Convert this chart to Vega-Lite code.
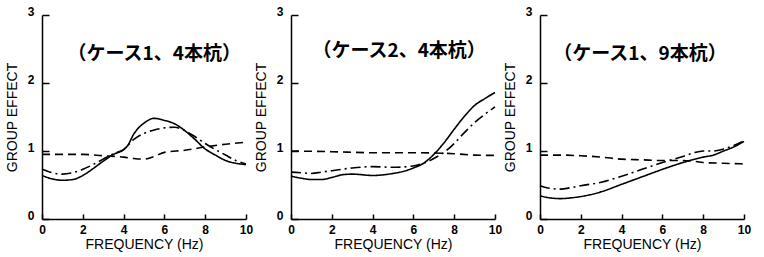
{
  "$schema": "https://vega.github.io/schema/vega-lite/v6.json",
  "background": "white",
  "padding": {"left": 5, "top": 5, "right": 5, "bottom": 5},
  "spacing": 45,
  "bounds": "flush",
  "datasets": {
    "curves": [
      {"c":"c1","s":"solid","f":0,"g":0.64},{"c":"c1","s":"solid","f":0.5,"g":0.59},{"c":"c1","s":"solid","f":1,"g":0.57},{"c":"c1","s":"solid","f":1.5,"g":0.58},{"c":"c1","s":"solid","f":2,"g":0.64},{"c":"c1","s":"solid","f":2.5,"g":0.74},{"c":"c1","s":"solid","f":3,"g":0.85},{"c":"c1","s":"solid","f":3.5,"g":0.95},{"c":"c1","s":"solid","f":4,"g":1.02},{"c":"c1","s":"solid","f":4.2,"g":1.08},{"c":"c1","s":"solid","f":4.5,"g":1.25},{"c":"c1","s":"solid","f":5,"g":1.41},{"c":"c1","s":"solid","f":5.5,"g":1.48},{"c":"c1","s":"solid","f":6,"g":1.45},{"c":"c1","s":"solid","f":6.5,"g":1.4},{"c":"c1","s":"solid","f":7,"g":1.3},{"c":"c1","s":"solid","f":7.5,"g":1.17},{"c":"c1","s":"solid","f":8,"g":1.03},{"c":"c1","s":"solid","f":8.5,"g":0.94},{"c":"c1","s":"solid","f":9,"g":0.86},{"c":"c1","s":"solid","f":9.5,"g":0.82},{"c":"c1","s":"solid","f":10,"g":0.8},
      {"c":"c1","s":"dashdot","f":0,"g":0.73},{"c":"c1","s":"dashdot","f":0.5,"g":0.68},{"c":"c1","s":"dashdot","f":1,"g":0.66},{"c":"c1","s":"dashdot","f":1.5,"g":0.68},{"c":"c1","s":"dashdot","f":2,"g":0.73},{"c":"c1","s":"dashdot","f":2.5,"g":0.8},{"c":"c1","s":"dashdot","f":3,"g":0.88},{"c":"c1","s":"dashdot","f":3.5,"g":0.96},{"c":"c1","s":"dashdot","f":4,"g":1.02},{"c":"c1","s":"dashdot","f":4.5,"g":1.17},{"c":"c1","s":"dashdot","f":5,"g":1.26},{"c":"c1","s":"dashdot","f":5.5,"g":1.31},{"c":"c1","s":"dashdot","f":6,"g":1.34},{"c":"c1","s":"dashdot","f":6.5,"g":1.35},{"c":"c1","s":"dashdot","f":7,"g":1.3},{"c":"c1","s":"dashdot","f":7.5,"g":1.21},{"c":"c1","s":"dashdot","f":8,"g":1.11},{"c":"c1","s":"dashdot","f":8.5,"g":1.02},{"c":"c1","s":"dashdot","f":9,"g":0.94},{"c":"c1","s":"dashdot","f":9.5,"g":0.86},{"c":"c1","s":"dashdot","f":10,"g":0.81},
      {"c":"c1","s":"dashed","f":0,"g":0.95},{"c":"c1","s":"dashed","f":1,"g":0.95},{"c":"c1","s":"dashed","f":2,"g":0.95},{"c":"c1","s":"dashed","f":3,"g":0.93},{"c":"c1","s":"dashed","f":4,"g":0.91},{"c":"c1","s":"dashed","f":4.5,"g":0.89},{"c":"c1","s":"dashed","f":5,"g":0.88},{"c":"c1","s":"dashed","f":5.5,"g":0.92},{"c":"c1","s":"dashed","f":6,"g":0.98},{"c":"c1","s":"dashed","f":7,"g":1.01},{"c":"c1","s":"dashed","f":8,"g":1.06},{"c":"c1","s":"dashed","f":9,"g":1.1},{"c":"c1","s":"dashed","f":10,"g":1.13},
      {"c":"c2","s":"solid","f":0,"g":0.63},{"c":"c2","s":"solid","f":0.5,"g":0.6},{"c":"c2","s":"solid","f":1,"g":0.58},{"c":"c2","s":"solid","f":1.5,"g":0.58},{"c":"c2","s":"solid","f":2,"g":0.61},{"c":"c2","s":"solid","f":2.5,"g":0.65},{"c":"c2","s":"solid","f":3,"g":0.66},{"c":"c2","s":"solid","f":4,"g":0.64},{"c":"c2","s":"solid","f":5,"g":0.67},{"c":"c2","s":"solid","f":5.5,"g":0.7},{"c":"c2","s":"solid","f":6,"g":0.75},{"c":"c2","s":"solid","f":6.5,"g":0.82},{"c":"c2","s":"solid","f":7,"g":0.95},{"c":"c2","s":"solid","f":7.5,"g":1.12},{"c":"c2","s":"solid","f":8,"g":1.32},{"c":"c2","s":"solid","f":8.5,"g":1.51},{"c":"c2","s":"solid","f":9,"g":1.67},{"c":"c2","s":"solid","f":9.5,"g":1.77},{"c":"c2","s":"solid","f":10,"g":1.86},
      {"c":"c2","s":"dashdot","f":0,"g":0.69},{"c":"c2","s":"dashdot","f":0.5,"g":0.68},{"c":"c2","s":"dashdot","f":1,"g":0.67},{"c":"c2","s":"dashdot","f":1.5,"g":0.69},{"c":"c2","s":"dashdot","f":2,"g":0.71},{"c":"c2","s":"dashdot","f":3,"g":0.75},{"c":"c2","s":"dashdot","f":4,"g":0.77},{"c":"c2","s":"dashdot","f":5,"g":0.76},{"c":"c2","s":"dashdot","f":6,"g":0.78},{"c":"c2","s":"dashdot","f":6.5,"g":0.82},{"c":"c2","s":"dashdot","f":7,"g":0.89},{"c":"c2","s":"dashdot","f":7.5,"g":0.98},{"c":"c2","s":"dashdot","f":8,"g":1.11},{"c":"c2","s":"dashdot","f":8.5,"g":1.27},{"c":"c2","s":"dashdot","f":9,"g":1.42},{"c":"c2","s":"dashdot","f":9.5,"g":1.54},{"c":"c2","s":"dashdot","f":10,"g":1.65},
      {"c":"c2","s":"dashed","f":0,"g":1.0},{"c":"c2","s":"dashed","f":2,"g":0.99},{"c":"c2","s":"dashed","f":4,"g":0.975},{"c":"c2","s":"dashed","f":6,"g":0.975},{"c":"c2","s":"dashed","f":7,"g":0.97},{"c":"c2","s":"dashed","f":8,"g":0.96},{"c":"c2","s":"dashed","f":9,"g":0.94},{"c":"c2","s":"dashed","f":10,"g":0.935},
      {"c":"c3","s":"solid","f":0,"g":0.34},{"c":"c3","s":"solid","f":0.5,"g":0.31},{"c":"c3","s":"solid","f":1,"g":0.3},{"c":"c3","s":"solid","f":1.5,"g":0.31},{"c":"c3","s":"solid","f":2,"g":0.33},{"c":"c3","s":"solid","f":3,"g":0.4},{"c":"c3","s":"solid","f":4,"g":0.51},{"c":"c3","s":"solid","f":5,"g":0.62},{"c":"c3","s":"solid","f":6,"g":0.73},{"c":"c3","s":"solid","f":7,"g":0.83},{"c":"c3","s":"solid","f":8,"g":0.91},{"c":"c3","s":"solid","f":8.5,"g":0.94},{"c":"c3","s":"solid","f":9,"g":1.0},{"c":"c3","s":"solid","f":9.5,"g":1.06},{"c":"c3","s":"solid","f":10,"g":1.14},
      {"c":"c3","s":"dashdot","f":0,"g":0.49},{"c":"c3","s":"dashdot","f":0.5,"g":0.45},{"c":"c3","s":"dashdot","f":1,"g":0.44},{"c":"c3","s":"dashdot","f":1.5,"g":0.46},{"c":"c3","s":"dashdot","f":2,"g":0.49},{"c":"c3","s":"dashdot","f":3,"g":0.54},{"c":"c3","s":"dashdot","f":4,"g":0.63},{"c":"c3","s":"dashdot","f":5,"g":0.73},{"c":"c3","s":"dashdot","f":6,"g":0.83},{"c":"c3","s":"dashdot","f":7,"g":0.92},{"c":"c3","s":"dashdot","f":7.5,"g":0.97},{"c":"c3","s":"dashdot","f":8,"g":1.0},{"c":"c3","s":"dashdot","f":8.5,"g":1.0},{"c":"c3","s":"dashdot","f":9,"g":1.03},{"c":"c3","s":"dashdot","f":9.5,"g":1.08},{"c":"c3","s":"dashdot","f":10,"g":1.15},
      {"c":"c3","s":"dashed","f":0,"g":0.94},{"c":"c3","s":"dashed","f":1,"g":0.94},{"c":"c3","s":"dashed","f":2,"g":0.93},{"c":"c3","s":"dashed","f":3,"g":0.91},{"c":"c3","s":"dashed","f":4,"g":0.88},{"c":"c3","s":"dashed","f":5,"g":0.87},{"c":"c3","s":"dashed","f":6,"g":0.86},{"c":"c3","s":"dashed","f":7,"g":0.86},{"c":"c3","s":"dashed","f":7.5,"g":0.85},{"c":"c3","s":"dashed","f":8,"g":0.83},{"c":"c3","s":"dashed","f":9,"g":0.82},{"c":"c3","s":"dashed","f":10,"g":0.81}
    ],
    "labels": [
      {"c":"c1","t":"（ケース1、4本杭）","x":5.5,"y":2.43},
      {"c":"c2","t":"（ケース2、4本杭）","x":5.3,"y":2.47},
      {"c":"c3","t":"（ケース1、9本杭）","x":4.9,"y":2.43}
    ]
  },
  "config": {
    "view": {"stroke": null},
    "axis": {
      "grid": false,
      "domainColor": "black", "domainWidth": 1.5,
      "tickColor": "black", "tickWidth": 1.5,
      "labelColor": "black", "titleColor": "black",
      "labelFont": "Liberation Sans", "titleFont": "Liberation Sans",
      "labelFontSize": 12, "labelFontWeight": "bold",
      "titleFontSize": 14, "titleFontWeight": "normal"
    },
    "axisX": {"tickSize": -5, "labelFlush": false, "labelPadding": 10, "titlePadding": 2},
    "axisY": {"tickSize": -7, "labelPadding": 15, "labelOffset": -4, "titlePadding": 8},
    "text": {"font": "Noto Sans CJK JP", "fontWeight": "bold", "fontSize": 19, "color": "black"},
    "line": {"interpolate": "monotone", "color": "black", "strokeWidth": 1.6}
  },
  "hconcat": [
    {
      "width": 204, "height": 204,
      "layer": [
        {
          "data": {"name": "curves"},
          "transform": [{"filter": "datum.c == 'c1'"}],
          "mark": {"type": "line"},
          "encoding": {
            "x": {"field": "f", "type": "quantitative", "scale": {"domain": [0, 10], "nice": false}, "axis": {"title": "FREQUENCY (Hz)", "values": [0,1,2,3,4,5,6,7,8,9,10], "labelExpr": "datum.value % 2 == 0 ? datum.label : ''"}},
            "y": {"field": "g", "type": "quantitative", "scale": {"domain": [0, 3], "nice": false}, "axis": {"title": "GROUP EFFECT", "values": [0,1,2,3], "format": "d"}},
            "strokeDash": {"field": "s", "type": "nominal", "scale": {"domain": ["solid","dashed","dashdot"], "range": [[1,0],[8,5],[10,4,2,4]]}, "legend": null}
          }
        },
        {
          "data": {"name": "labels"},
          "transform": [{"filter": "datum.c == 'c1'"}],
          "mark": {"type": "text"},
          "encoding": {"x": {"field": "x", "type": "quantitative"}, "y": {"field": "y", "type": "quantitative"}, "text": {"field": "t"}}
        }
      ]
    },
    {
      "width": 204, "height": 204,
      "layer": [
        {
          "data": {"name": "curves"},
          "transform": [{"filter": "datum.c == 'c2'"}],
          "mark": {"type": "line"},
          "encoding": {
            "x": {"field": "f", "type": "quantitative", "scale": {"domain": [0, 10], "nice": false}, "axis": {"title": "FREQUENCY (Hz)", "values": [0,1,2,3,4,5,6,7,8,9,10], "labelExpr": "datum.value % 2 == 0 ? datum.label : ''"}},
            "y": {"field": "g", "type": "quantitative", "scale": {"domain": [0, 3], "nice": false}, "axis": {"title": "GROUP EFFECT", "values": [0,1,2,3], "format": "d"}},
            "strokeDash": {"field": "s", "type": "nominal", "scale": {"domain": ["solid","dashed","dashdot"], "range": [[1,0],[8,5],[10,4,2,4]]}, "legend": null}
          }
        },
        {
          "data": {"name": "labels"},
          "transform": [{"filter": "datum.c == 'c2'"}],
          "mark": {"type": "text"},
          "encoding": {"x": {"field": "x", "type": "quantitative"}, "y": {"field": "y", "type": "quantitative"}, "text": {"field": "t"}}
        }
      ]
    },
    {
      "width": 204, "height": 204,
      "layer": [
        {
          "data": {"name": "curves"},
          "transform": [{"filter": "datum.c == 'c3'"}],
          "mark": {"type": "line"},
          "encoding": {
            "x": {"field": "f", "type": "quantitative", "scale": {"domain": [0, 10], "nice": false}, "axis": {"title": "FREQUENCY (Hz)", "values": [0,1,2,3,4,5,6,7,8,9,10], "labelExpr": "datum.value % 2 == 0 ? datum.label : ''"}},
            "y": {"field": "g", "type": "quantitative", "scale": {"domain": [0, 3], "nice": false}, "axis": {"title": "GROUP EFFECT", "values": [0,1,2,3], "format": "d"}},
            "strokeDash": {"field": "s", "type": "nominal", "scale": {"domain": ["solid","dashed","dashdot"], "range": [[1,0],[8,5],[10,4,2,4]]}, "legend": null}
          }
        },
        {
          "data": {"name": "labels"},
          "transform": [{"filter": "datum.c == 'c3'"}],
          "mark": {"type": "text"},
          "encoding": {"x": {"field": "x", "type": "quantitative"}, "y": {"field": "y", "type": "quantitative"}, "text": {"field": "t"}}
        }
      ]
    }
  ]
}
